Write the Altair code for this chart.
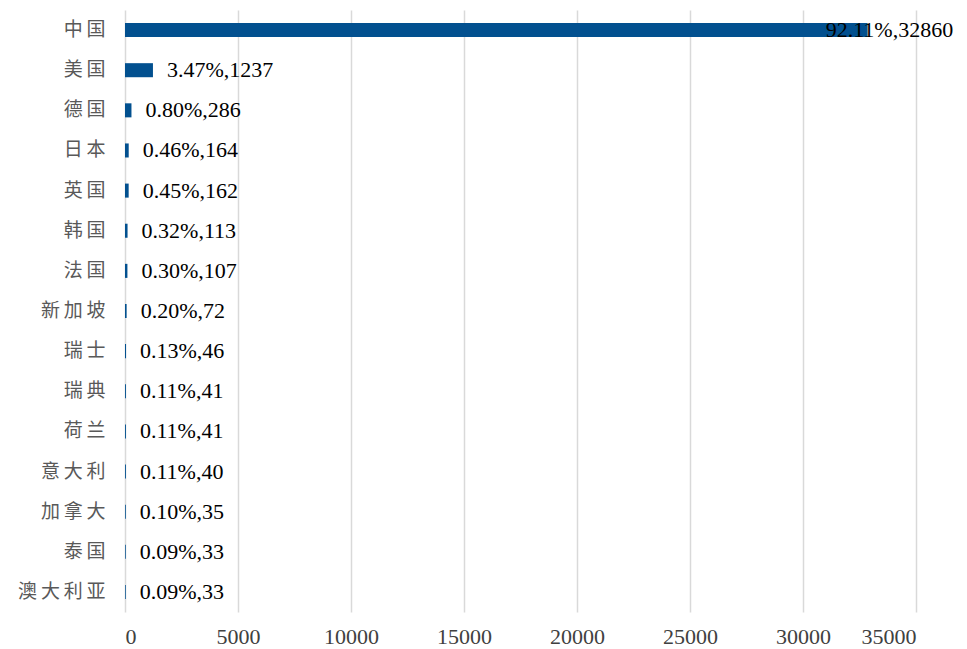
import altair as alt
import pandas as pd

countries = ["中国", "美国", "德国", "日本", "英国", "韩国", "法国", "新加坡",
             "瑞士", "瑞典", "荷兰", "意大利", "加拿大", "泰国", "澳大利亚"]
values = [32860, 1237, 286, 164, 162, 113, 107, 72, 46, 41, 41, 40, 35, 33, 33]
shares = ["92.11%", "3.47%", "0.80%", "0.46%", "0.45%", "0.32%", "0.30%", "0.20%",
          "0.13%", "0.11%", "0.11%", "0.11%", "0.10%", "0.09%", "0.09%"]
x_ticks = [0, 5000, 10000, 15000, 20000, 25000, 30000, 35000]

df = pd.DataFrame({"country": countries, "value": values, "share": shares})
df["label"] = df["share"] + "," + df["value"].astype(str)

y_enc = alt.Y("country:N", sort=countries,
              scale=alt.Scale(paddingInner=0.65, paddingOuter=0.325),
              axis=alt.Axis(title=None, domain=False, ticks=False, grid=False,
                            labelFont="Noto Sans CJK SC", labelFontSize=19,
                            labelColor="#595959", labelPadding=20,
                            labelExpr="join(split(datum.label, ''), '\u2009')"))
x_enc = alt.X("value:Q", scale=alt.Scale(domain=[0, 35000], nice=False),
              axis=alt.Axis(title=None, values=x_ticks, domain=False, ticks=False,
                            grid=True, gridColor="#d9d9d9", gridWidth=1.5,
                            format="d",
                            labelFont="Liberation Serif", labelFontSize=22,
                            labelColor="#404040", labelPadding=14))

base = alt.Chart(df)
bars = base.mark_bar(color="#02508f").encode(x=x_enc, y=y_enc)

text_small = base.transform_filter("datum.value < 30000").mark_text(
    align="left", baseline="middle", dx=14, font="Liberation Serif",
    fontSize=22, color="#000000").encode(x="value:Q", y=alt.Y("country:N", sort=countries), text="label:N")
text_big = base.transform_filter("datum.value >= 30000").mark_text(
    align="left", baseline="middle", dx=-42, font="Liberation Serif",
    fontSize=22, color="#000000").encode(x="value:Q", y=alt.Y("country:N", sort=countries), text="label:N")

chart = alt.layer(bars, text_small, text_big).properties(
    width=791, height=602,
    background="#ffffff",
    autosize=alt.AutoSizeParams(type="none"),
    padding={"left": 117, "top": 2, "right": 42, "bottom": 38},
).configure_view(stroke=None)

chart.save("out.html", embed_options={"renderer": "svg", "actions": False})
